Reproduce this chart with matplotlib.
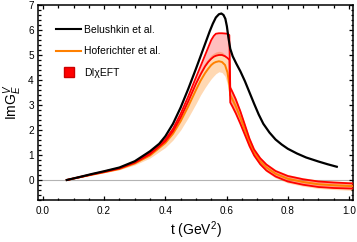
import numpy as np
import matplotlib
matplotlib.use("Agg")
import matplotlib.pyplot as plt
from matplotlib.lines import Line2D
from matplotlib.ticker import MultipleLocator

plt.rcParams['font.family'] = ['Liberation Sans', 'DejaVu Sans']
plt.rcParams['mathtext.fontset'] = 'custom'
plt.rcParams['mathtext.rm'] = 'Liberation Sans'
plt.rcParams['mathtext.it'] = 'Liberation Sans:italic'

# Belushkin et al.
t_bel = [0.078, 0.12, 0.16, 0.2, 0.25, 0.3, 0.35, 0.38, 0.4, 0.425, 0.45, 0.475, 0.5,
         0.515, 0.53, 0.545, 0.555, 0.565, 0.575, 0.583, 0.59, 0.596, 0.601, 0.606,
         0.612, 0.62, 0.632, 0.645, 0.66, 0.675, 0.69, 0.705, 0.72, 0.74, 0.76, 0.78,
         0.8, 0.83, 0.86, 0.9, 0.93, 0.96]
bel = [0, 0.12, 0.24, 0.35, 0.5, 0.75, 1.15, 1.45, 1.75, 2.25, 2.9, 3.65, 4.45,
       4.95, 5.45, 5.95, 6.25, 6.5, 6.63, 6.66, 6.6, 6.45, 6.15, 5.7,
       5.25, 4.95, 4.65, 4.35, 3.95, 3.5, 3.05, 2.62, 2.25, 1.9, 1.62, 1.42,
       1.25, 1.06, 0.9, 0.74, 0.63, 0.53]

# common grid for DIchiEFT and Hoferichter
t_grid = [0.078, 0.12, 0.16, 0.2, 0.25, 0.3, 0.35, 0.4, 0.425, 0.45, 0.475, 0.5, 0.515,
          0.53, 0.54, 0.55, 0.558, 0.565, 0.575, 0.585, 0.595, 0.603, 0.609, 0.612,
          0.62, 0.63, 0.645, 0.66, 0.675, 0.69, 0.71, 0.73, 0.76, 0.8, 0.85, 0.9,
          0.95, 1.0, 1.03]
dx_hi = [0, 0.12, 0.23, 0.34, 0.48, 0.72, 1.08, 1.62, 2.05, 2.65, 3.35, 4.1, 4.55,
         5.0, 5.3, 5.6, 5.76, 5.85, 5.87, 5.87, 5.86, 5.85, 5.8, 3.7,
         3.5, 3.23, 2.75, 2.2, 1.65, 1.22, 0.87, 0.62, 0.36, 0.16, 0.03, -0.06,
         -0.1, -0.13, -0.14]
dx_lo = [0, 0.11, 0.22, 0.32, 0.46, 0.69, 1.03, 1.55, 1.95, 2.5, 3.15, 3.85, 4.22,
         4.55, 4.72, 4.85, 4.93, 4.97, 5.0, 5.0, 4.95, 4.88, 4.8, 3.1,
         2.92, 2.67, 2.25, 1.8, 1.35, 0.98, 0.63, 0.38, 0.14, -0.06, -0.19, -0.28,
         -0.32, -0.34, -0.35]
hof = [0, 0.11, 0.21, 0.31, 0.44, 0.66, 0.98, 1.48, 1.85, 2.35, 2.95, 3.6, 3.97,
       4.28, 4.45, 4.6, 4.68, 4.72, 4.75, 4.72, 4.6, 4.3, 3.8, 3.4,
       3.2, 2.95, 2.5, 2.0, 1.5, 1.1, 0.75, 0.5, 0.25, 0.05, -0.08, -0.17,
       -0.21, -0.24, -0.25]
hof_lo = [0, 0.1, 0.2, 0.29, 0.41, 0.6, 0.88, 1.3, 1.6, 2.0, 2.5, 3.05, 3.4,
          3.7, 3.88, 4.05, 4.16, 4.25, 4.33, 4.3, 4.15, 3.8, 3.3, 3.0,
          2.8, 2.6, 2.2, 1.75, 1.3, 0.92, 0.58, 0.33, 0.08, -0.12, -0.25, -0.34,
          -0.38, -0.41, -0.42]
hof_hi = [0, 0.12, 0.22, 0.33, 0.47, 0.71, 1.07, 1.63, 2.05, 2.6, 3.3, 4.0, 4.38,
          4.7, 4.86, 5.0, 5.07, 5.12, 5.15, 5.12, 5.02, 4.8, 4.2, 3.8,
          3.55, 3.3, 2.8, 2.25, 1.7, 1.28, 0.92, 0.67, 0.42, 0.22, 0.09, 0.0,
          -0.04, -0.07, -0.08]

xticks = [0.0, 0.2, 0.4, 0.6, 0.8, 1.0]
yticks = [0, 1, 2, 3, 4, 5, 6, 7]

RED = (1.0, 0.0, 0.0)
ORANGE = (1.0, 0.5, 0.0)

fig = plt.figure(figsize=(3.57, 2.42), dpi=100)
ax = fig.add_axes([38/357, 1-200/242, (353-38)/357, (200-5)/242])

ax.axhline(0, color='#b3b3b3', lw=0.8, zorder=1)
ax.fill_between(t_grid, hof_lo, hof_hi, color=ORANGE, alpha=0.3, lw=0, zorder=2)
ax.fill_between(t_grid, dx_lo, dx_hi, color=RED, alpha=0.25, lw=0, zorder=3)
ax.plot(t_grid, hof, color=ORANGE, lw=1.4, zorder=4)
ax.plot(t_grid, dx_lo, color=RED, lw=1.3, zorder=5)
ax.plot(t_grid, dx_hi, color=RED, lw=1.3, zorder=5)
ax.plot(t_bel, bel, color='black', lw=1.6, zorder=6)

ax.set_xlim(-0.016, 1.013)
ax.set_ylim(-0.8, 7.0)
ax.set_xticks(xticks)
ax.set_xticklabels([f"{v:.1f}" for v in xticks])
ax.set_yticks(yticks)
ax.set_yticklabels([str(v) for v in yticks])
ax.xaxis.set_minor_locator(MultipleLocator(0.05))
ax.yaxis.set_minor_locator(MultipleLocator(0.2))
ax.tick_params(which='both', direction='in', top=True, right=True, width=0.9,
               labelsize=7.2, colors='black')
ax.tick_params(which='major', length=3.0)
ax.tick_params(which='minor', length=1.8)
ax.tick_params(axis='x', pad=4)
ax.tick_params(axis='y', pad=3)
for s in ax.spines.values():
    s.set_linewidth(1.1)

ax.set_xlabel(r't (GeV$^2$)', fontsize=10, labelpad=3)
ax.set_ylabel(r'ImG$_E^V$', fontsize=10, labelpad=3)

handles = [Line2D([], [], color='black', lw=1.5),
           Line2D([], [], color=ORANGE, lw=1.5),
           Line2D([], [], color=RED, marker='s', ms=6.5, lw=0, markeredgecolor=(0.8, 0, 0))]
labels = ['Belushkin et al.', 'Hoferichter et al.', 'DI\u03c7EFT']
ax.legend(handles, labels, loc='upper left', bbox_to_anchor=(0.045, 0.92), frameon=False,
          fontsize=7.5, handlelength=2.4, handletextpad=0.3, labelspacing=1.1,
          borderaxespad=0)

fig.savefig('out.png', dpi=100)
